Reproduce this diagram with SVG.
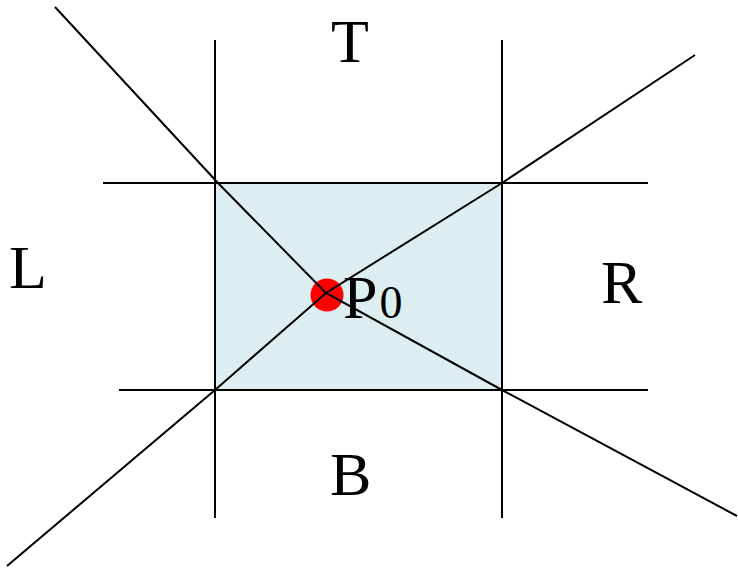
<svg xmlns="http://www.w3.org/2000/svg" width="738" height="571" viewBox="0 0 738 571">
<style>
.ln{stroke:#000;stroke-width:2;fill:none}
.lb{font-family:"Liberation Serif",serif;font-size:62px;fill:#000}
</style>
<rect width="738" height="571" fill="#fff"/>
<g id="window"><rect x="215" y="183" width="287" height="207" fill="#DDEEF0"/></g>
<g id="P0dot"><circle cx="327" cy="295" r="16.5" fill="#FF0000"/></g>
<g id="connectors">
<line class="ln" x1="215" y1="40" x2="215" y2="518"/>
<line class="ln" x1="502" y1="40" x2="502" y2="518"/>
<line class="ln" x1="103" y1="183" x2="648" y2="183"/>
<line class="ln" x1="119" y1="390" x2="648" y2="390"/>
<polyline class="ln" points="55,7 218,183 326,293 502,390 737,516"/>
<polyline class="ln" points="7,566 215,390 326,293 502,183 695,55"/>
</g>
<g id="P0"><text class="lb" x="343" y="318">P<tspan font-size="46px" dx="2">0</tspan></text></g>
<g id="T"><text class="lb" x="331" y="62">T</text></g>
<g id="L"><text class="lb" x="9" y="288">L</text></g>
<g id="R"><text class="lb" x="601" y="303">R</text></g>
<g id="B"><text class="lb" x="330" y="495">B</text></g>
</svg>
